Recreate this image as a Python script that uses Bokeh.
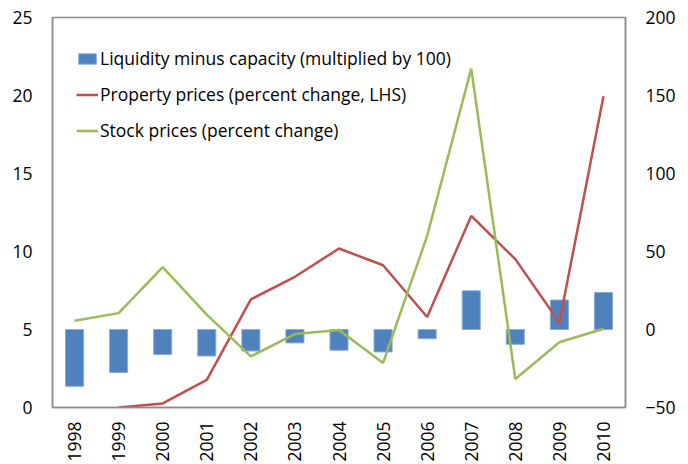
import math
from bokeh.plotting import figure
from bokeh.models import Range1d, LinearAxis, FactorRange, Legend, LegendItem, FixedTicker
from bokeh.embed import file_html
from bokeh.resources import INLINE

years = [str(y) for y in range(1998, 2011)]
liquidity = [-36.4, -27.6, -16.1, -17.0, -13.8, -8.6, -13.3, -14.4, -5.9, 24.8, -9.5, 18.9, 23.7]
property_years = [str(y) for y in range(1999, 2011)]
property_prices = [0.0, 0.26, 1.77, 6.93, 8.38, 10.19, 9.12, 5.80, 12.28, 9.51, 5.45, 19.95]
stock_prices = [5.6, 10.5, 40.0, 9.5, -17.2, -2.9, -0.3, -21.4, 60.0, 167.2, -31.7, -8.2, 0.5]
left_ticks = [0, 5, 10, 15, 20, 25]
right_ticks = [-50, 0, 50, 100, 150, 200]

FONT = "Open Sans"
GRAY = "#8c8c8c"
FS = "17.5px"

p = figure(width=688, height=464, x_range=FactorRange(*years, range_padding=0),
           y_range=Range1d(0, 25), output_backend="svg", toolbar_location=None,
           min_border_left=52, min_border_right=63, min_border_top=17, min_border_bottom=56,
           outline_line_color=GRAY, outline_line_width=1.5)
p.extra_y_ranges = {"right": Range1d(-50, 200)}
p.xgrid.visible = False
p.ygrid.visible = False

bars = p.vbar(x=years, top=liquidity, bottom=0, width=0.41, y_range_name="right",
              fill_color="#4F81BD", line_color="#8AADD8", line_width=1)
red = p.line(property_years, property_prices, line_color="#C0504D", line_width=2.5)
green = p.line(years, stock_prices, line_color="#9BBB59", line_width=2.5, y_range_name="right")

right_axis = LinearAxis(y_range_name="right", ticker=FixedTicker(ticks=right_ticks))
p.add_layout(right_axis, "right")
p.yaxis[0].ticker = FixedTicker(ticks=left_ticks)

for ax in p.yaxis + p.xaxis:
    ax.axis_line_color = GRAY
    ax.axis_line_width = 1.5
    ax.major_tick_line_color = None
    ax.minor_tick_line_color = None
    ax.major_tick_out = 0
    ax.major_tick_in = 0
    ax.minor_tick_out = 0
    ax.minor_tick_in = 0
    ax.major_label_text_font = FONT
    ax.major_label_text_font_size = FS
    ax.major_label_text_color = "#000000"

for ax in p.yaxis:
    ax.major_label_standoff = 20
p.xaxis[0].major_label_orientation = math.pi / 2
p.xaxis[0].major_label_standoff = 14

legend = Legend(items=[
    LegendItem(label="Liquidity minus capacity (multiplied by 100)", renderers=[bars]),
    LegendItem(label="Property prices (percent change, LHS)", renderers=[red]),
    LegendItem(label="Stock prices (percent change)", renderers=[green]),
], location=(24, 265), orientation="vertical", padding=0, margin=0, spacing=12,
    glyph_width=22, glyph_height=13, label_height=21, label_standoff=2,
    label_text_font=FONT, label_text_font_size=FS, label_text_color="#000000",
    border_line_color=None, background_fill_alpha=0)
p.add_layout(legend, "center")

open("out.html", "w").write(file_html(p, INLINE))
